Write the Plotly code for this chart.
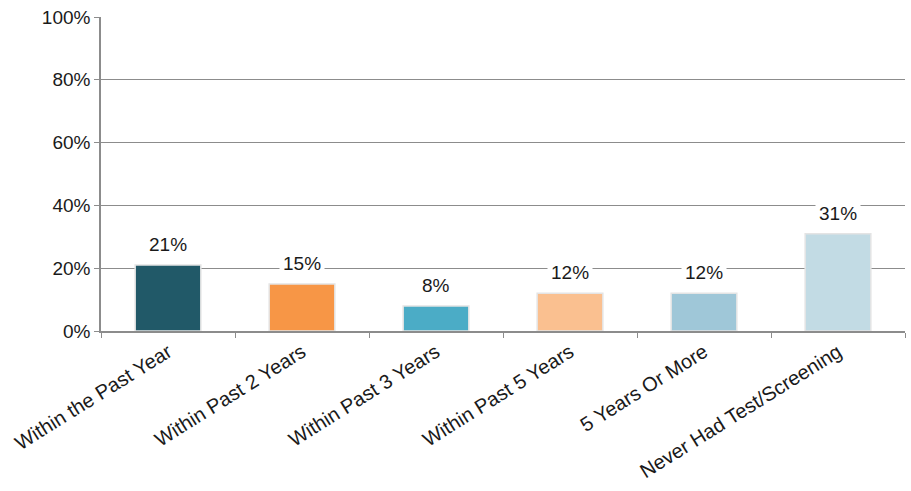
import plotly.graph_objects as go

# survey answers, share of respondents
categories = ['Within the Past Year', 'Within Past 2 Years', 'Within Past 3 Years',
              'Within Past 5 Years', '5 Years Or More', 'Never Had Test/Screening']
values = [21, 15, 8, 12, 12, 31]
colors = ['#215968', '#F79646', '#4BACC6', '#FAC090', '#9FC7D8', '#C2DBE4']
y_ticks = [0, 20, 40, 60, 80, 100]
y_tick_labels = ['0%', '20%', '40%', '60%', '80%', '100%']

font = 'Liberation Sans, Arial, sans-serif'

fig = go.Figure()
fig.add_trace(go.Bar(
    x=categories, y=values,
    marker=dict(color=colors, line=dict(color='#e4e4e4', width=1.5)),
    width=0.49, hoverinfo='skip',
))

# value labels sit on a white box so the gridlines stop at the text
for cat, val in zip(categories, values):
    fig.add_annotation(x=cat, y=val, text=f'{val}%', showarrow=False,
                       yanchor='bottom', yshift=6, bgcolor='white', borderpad=3,
                       font=dict(family=font, size=19, color='#1a1a1a'))

fig.update_layout(
    width=911, height=491,
    margin=dict(l=101, r=6, t=17, b=160),
    plot_bgcolor='white', paper_bgcolor='white',
    showlegend=False,
    font=dict(family=font, size=19, color='#1a1a1a'),
)
fig.update_yaxes(range=[0, 100], tickvals=y_ticks, ticktext=y_tick_labels,
                 showgrid=True, gridcolor='#8c8c8c', gridwidth=1,
                 showline=True, linecolor='#8c8c8c', linewidth=1.5,
                 ticks='outside', ticklen=5, tickcolor='#8c8c8c', zeroline=False,
                 automargin=False)
fig.update_xaxes(tickangle=-32, tickfont=dict(size=20),
                 showline=True, linecolor='#8c8c8c', linewidth=1.5,
                 ticks='outside', ticklen=5, tickcolor='#8c8c8c', tickson='boundaries',
                 showgrid=False, automargin=False)

# drop the default body margin so the figure sits at the page corner
fig.write_html('out.html', config={'displayModeBar': False},
               post_script="document.body.style.margin='0';")
